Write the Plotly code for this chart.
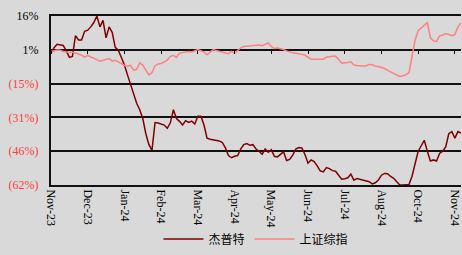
import plotly.graph_objects as go

# x axis: trading-day index (category-style axis, labels every 12 points)
tick_labels = ["Nov-23", "Dec-23", "Jan-24", "Feb-24", "Mar-24", "Apr-24",
               "May-24", "Jun-24", "Jul-24", "Aug-24", "Oct-24", "Nov-24"]
tick_step = 12

y_tick_vals = [16, 0.5, -15, -30.5, -46, -61.5]
y_tick_text = ["16%", "1%", "(15%)", "(31%)", "(46%)", "(62%)"]

jpt = [-1, 1.5, 3.0, 2.8, 2.5, 0, -3, -2.5, 7, 5,
       5, 9, 9.5, 11, 13, 16, 11, 14, 6, 11,
       8.5, 1.6, 0.3, -3, -6.5, -11, -15.5, -19, -24, -27,
       -31, -38, -43, -45.6, -32.9, -33.1, -33.4, -34, -35.5, -33,
       -27, -31, -32.3, -34, -32, -32.8, -32.2, -33.5, -30, -30,
       -34, -40, -40.5, -40.8, -40.8, -41.3, -42, -44.5, -48, -49,
       -48.3, -48, -45, -43, -42.5, -43.3, -43, -45, -46, -47.4,
       -45, -46.5, -45.3, -48.3, -48.6, -47.5, -46.3, -50.3, -49.8, -47.8,
       -45, -44.3, -44.5, -47.5, -51.5, -50, -50.8, -52.7, -55, -55.5,
       -53.5, -54, -54.9, -55.2, -57, -58.8, -58.6, -58.2, -56.5, -59.3,
       -58.5, -58.8, -59.3, -59.5, -60, -61, -60.5, -59.2, -57, -56.2,
       -56.3, -57.6, -58.4, -60, -61.5, -61.5, -61.5, -61.3, -57.5, -51,
       -46, -43.5, -41, -46, -50.5, -50, -50.5, -47, -46, -44,
       -38, -37, -40, -37, -37.7]

szzs = [-0.3, 0.2, 0.4, 0.3, -0.3, -0.5, -0.4, -0.6, -1.0, -1.4,
        -2, -2.9, -2.1, -2.8, -3.3, -4, -4.7, -4.4, -3.8, -3.5,
        -4.7, -4.3, -5, -6, -6.7, -7, -6.6, -8.8, -8.5, -5.5,
        -6.5, -8.8, -11, -10, -6.8, -6, -5.8, -5, -4.2, -2.5,
        -2.1, -3, -1.1, -0.8, -0.5, -0.3, -0.5, 0, 0.6, 0.1,
        -0.6, -1.8, -0.5, 0.6, 0.2, -0.2, -0.5, -0.8, -1.3, -0.2,
        -1.0, 0.2, 1.4, 2.0, 2.1, 2.3, 2.5, 2.7, 2.7, 2.4,
        3.0, 3.7, 2, 1.1, 1.3, 1.0, 0.6, 0, -0.6, -0.9,
        -1.1, -1.2, -1.6, -2, -3, -3.8, -3.8, -3.8, -4, -3.8,
        -2.9, -2.6, -2.5, -2.5, -3.8, -5.6, -5.6, -5.3, -5, -6.5,
        -6.7, -6.9, -6.9, -6.9, -6.2, -6.4, -7, -7.2, -7.6, -8.1,
        -8.9, -9.6, -10.5, -11.3, -11.7, -11.4, -10.9, -10, -2, 5,
        9.3, 10.5, 12, 13.0, 6, 4.6, 4.3, 6.9, 7.2, 8,
        7.5, 7, 7.5, 11, 12.8]

x_idx = list(range(len(jpt)))
tick_vals = [i * tick_step for i in range(len(tick_labels))]

RED_NEG = "#ff3b3b"
y_text_html = [t if not t.startswith("(") else f'<span style="color:{RED_NEG}">{t}</span>'
               for t in y_tick_text]

fig = go.Figure()
fig.add_trace(go.Scatter(x=x_idx, y=jpt, mode="lines", name="杰普特",
                         line=dict(color="#7f0000", width=1.5)))
fig.add_trace(go.Scatter(x=x_idx, y=szzs, mode="lines", name="上证综指",
                         line=dict(color="#ff8080", width=1.5)))
# helper (empty) trace so the tick-mark axis at the 1% line is drawn
fig.add_trace(go.Scatter(x=[], y=[], xaxis="x2", showlegend=False, hoverinfo="skip"))

ymin, ymax = -61.5, 16
zero_pos = (0.5 - ymin) / (ymax - ymin)

fig.update_layout(
    width=462, height=255,
    margin=dict(l=51, r=1, t=16, b=63),
    paper_bgcolor="#d9d9d9", plot_bgcolor="#d9d9d9",
    font=dict(family="Liberation Serif, Times New Roman, serif", size=12, color="#000"),
    xaxis=dict(range=[0, 134], tickmode="array", tickvals=tick_vals, ticktext=tick_labels,
               tickangle=90, showgrid=False, zeroline=False, showline=True,
               linecolor="#111", linewidth=2, mirror=True, ticks="", automargin=False,
               tickfont=dict(family="Liberation Serif", size=12, color="#000")),
    xaxis2=dict(range=[0, 134], overlaying="x", anchor="free", position=zero_pos,
                tickmode="array", tickvals=tick_vals, showticklabels=False,
                ticks="outside", ticklen=3, tickwidth=1, tickcolor="#111",
                showline=False, showgrid=False, zeroline=False, automargin=False),
    yaxis=dict(range=[ymin, ymax], tickmode="array", tickvals=y_tick_vals, ticktext=y_text_html,
               showgrid=True, gridcolor="#111", gridwidth=1.5, zeroline=False,
               showline=True, linecolor="#111", linewidth=2, ticks="", automargin=False,
               ticklabelstandoff=8,
               tickfont=dict(family="Liberation Serif", size=12, color="#000")),
    legend=dict(orientation="h", x=0.5, xanchor="center", y=-0.32, yanchor="middle",
                bgcolor="rgba(0,0,0,0)",
                font=dict(family="Noto Sans CJK SC", size=12, color="#000"),
                itemwidth=40),
    showlegend=True,
)

fig.write_html("out.html", config={"displayModeBar": False},
               post_script="document.body.style.margin='0';")
